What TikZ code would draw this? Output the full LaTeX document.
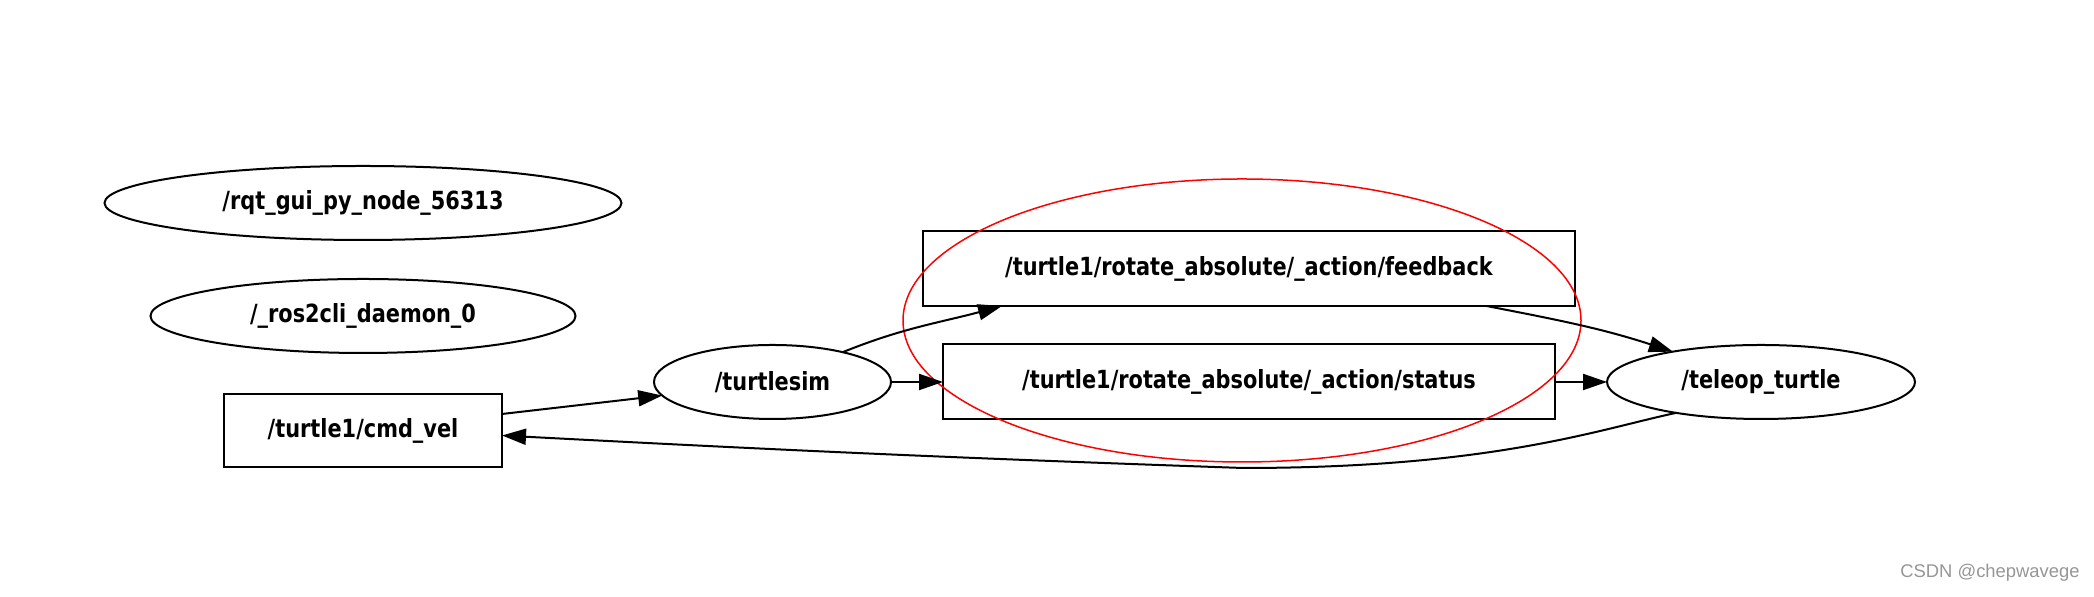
\documentclass[tikz,border=0pt]{standalone}
\usepackage{fontspec}
\newfontfamily\graphfont{DejaVu Sans}[FakeStretch=0.835]
\setsansfont{Liberation Sans}
\definecolor{markgray}{RGB}{150,150,150}
\usetikzlibrary{positioning, arrows.meta, shapes.geometric}

\begin{document}
\begin{tikzpicture}[
    x=0.5pt, y=0.5pt,
    % --- Styles ---
    rosnode/.style={
        ellipse,
        draw=black,
        line width=1pt,
        inner sep=0pt,
        outer sep=0pt,
        minimum height=37pt,
        font=\graphfont\bfseries\fontsize{12.5}{14}\selectfont
    },
    topic/.style={
        rectangle,
        draw=black,
        line width=1pt,
        inner sep=0pt,
        outer sep=0pt,
        minimum height=37.5pt,
        font=\graphfont\bfseries\fontsize{12.5}{14}\selectfont
    },
    arrow/.style={
        -{Triangle[length=12pt, width=8pt]},
        line width=1pt
    }
]
\useasboundingbox (0,0) rectangle (2094,597);

% --- Nodes (relative positioning) ---
\node[topic, minimum width=139pt, minimum height=36.5pt] (cmdvel) at (363,166.5) {/turtle1/cmd\_vel};
\node[rosnode, minimum width=212.5pt, above=20.5pt of cmdvel] (daemon) {/\_ros2cli\_daemon\_0};
\node[rosnode, minimum width=258.5pt, above=19.5pt of daemon] (rqtgui) {/rqt\_gui\_py\_node\_56313};

\node[rosnode, minimum width=118.5pt] (turtlesim) at (772.5,215) {/turtlesim};
\node[topic, minimum width=306pt, right=26pt of turtlesim] (status) {/turtle1/rotate\_absolute/\_action/status};
\node[topic, minimum width=326pt, above=19.25pt of status] (feedback) {/turtle1/rotate\_absolute/\_action/feedback};
\node[rosnode, minimum width=154pt, right=26pt of status] (teleop) {/teleop\_turtle};

% red mark round the action topics
\node[ellipse, draw=red, line width=0.75pt, minimum width=339pt, minimum height=141.5pt] (mark) at (1242,276.5) {};

\node[font=\sffamily\fontsize{9.2}{11}\selectfont, text=markgray, anchor=east, inner sep=0pt] (credit) at (2080,24) {CSDN @chepwavege};

% --- Arrows ---
\draw[arrow] ([yshift=8.25pt]cmdvel.east) -- (turtlesim.187);
\draw[arrow] (turtlesim.23) to[out=22, in=195] ([xshift=39.5pt]feedback.south west);
\draw[arrow] (turtlesim) -- (status);
\draw[arrow] ([xshift=-44.25pt]feedback.south east) to[out=-11, in=162] (teleop.161);
\draw[arrow] (status) -- (teleop);

\coordinate (dip) at (1243,129);
\draw[arrow] (teleop.200) .. controls +(192:80) and +(250,0) .. (dip) to[out=178, in=-3] ([yshift=-2.5pt]cmdvel.east);
\end{tikzpicture}
\end{document}
